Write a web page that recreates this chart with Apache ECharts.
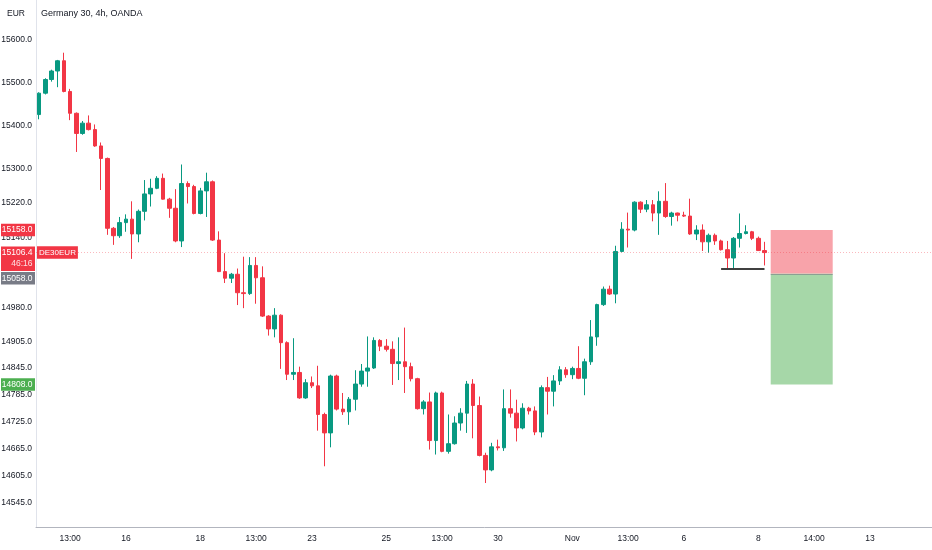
<!DOCTYPE html>
<html><head><meta charset="utf-8">
<script src="https://cdn.jsdelivr.net/npm/echarts@6/dist/echarts.min.js"></script>
<style>html,body{margin:0;padding:0;background:#fff}#c{width:932px;height:550px}</style>
</head><body><div id="c"></div>
<script>
const opens = [
15425,15475,15507,15527,15551,15479,15428,15381,15405,15390,
15352,15323,15162,15145,15175,15183,15149,15201,15241,15254,
15277,15229,15208,15133,15265,15258,15196,15248,15269,15135,
15063,15048,15057,15015,15013,15077,15049,14962,14933,14964,
14902,14831,14835,14778,14812,14805,14741,14700,14827,14753,
14747,14775,14809,14838,14845,14907,14894,14887,14855,14859,
14848,14821,14754,14769,14683,14789,14659,14676,14722,14744,
14809,14761,14650,14618,14669,14667,14754,14744,14711,14755,
14749,14702,14801,14793,14816,14841,14830,14844,14822,14859,
14915,14988,15023,15012,15109,15160,15158,15222,15206,15216,
15197,15224,15189,15197,15192,15190,15149,15158,15131,15146,
15133,15113,15094,15139,15150,15154,15139,15111];
const closes = [
15475,15507,15527,15551,15479,15428,15381,15405,15390,15352,
15323,15162,15145,15175,15183,15149,15201,15241,15254,15277,
15229,15208,15133,15265,15258,15196,15248,15269,15135,15063,
15048,15057,15015,15013,15077,15049,14962,14933,14964,14902,
14831,14835,14778,14812,14805,14741,14700,14827,14753,14747,
14775,14809,14838,14845,14907,14894,14887,14855,14859,14848,
14821,14754,14769,14683,14789,14659,14676,14722,14744,14809,
14761,14650,14618,14669,14667,14754,14744,14711,14755,14749,
14702,14801,14793,14816,14841,14830,14844,14822,14859,14915,
14988,15023,15012,15109,15160,15158,15222,15206,15216,15197,
15224,15189,15197,15192,15190,15149,15158,15131,15146,15133,
15113,15094,15139,15150,15154,15139,15111,15106.4];
const highs = [
15477,15510,15530,15553,15570,15485,15430,15410,15423,15402,
15360,15325,15165,15188,15194,15224,15205,15273,15276,15282,
15288,15232,15252,15309,15270,15262,15255,15290,15272,15155,
15105,15060,15070,15097,15096,15096,15075,14964,14980,14966,
14905,14912,14848,14820,14826,14850,14745,14830,14830,14789,
14780,14840,14854,14916,14914,14910,14910,14905,14914,14936,
14857,14823,14773,14790,14792,14792,14741,14737,14755,14816,
14820,14781,14656,14678,14685,14797,14797,14774,14766,14758,
14759,14806,14825,14829,14849,14847,14848,14894,14866,14953,
14990,15029,15031,15122,15176,15198,15224,15224,15227,15227,
15247,15266,15200,15198,15200,15230,15169,15171,15150,15150,
15136,15133,15142,15196,15169,15156,15143,15131];
const lows = [
15414,15472,15502,15489,15477,15412,15338,15378,15388,15350,
15250,15147,15124,15140,15154,15092,15130,15180,15212,15252,
15228,15186,15130,15119,15219,15194,15194,15188,15133,15062,
15037,15037,14987,14980,15010,14990,14960,14918,14914,14843,
14818,14818,14776,14776,14800,14705,14626,14668,14750,14740,
14718,14750,14803,14803,14843,14883,14882,14807,14818,14789,
14815,14752,14741,14663,14652,14657,14654,14674,14705,14700,
14688,14648,14589,14615,14661,14660,14734,14681,14708,14741,
14695,14690,14741,14759,14807,14823,14820,14820,14784,14852,
14895,14985,15010,14991,15107,15118,15155,15197,15199,15178,
15147,15186,15168,15178,15188,15147,15135,15110,15106,15124,
15111,15071,15071,15118,15148,15135,15110,15077];

const slotCount = 145;
const tickIndex = [5,14,26,35,44,56,65,74,86,95,104,116,125,134];
const tickText = ['13:00','16','18','13:00','23','25','13:00','30','Nov','13:00','6','8','14:00','13'];
const priceLabels = [15600,15500,15400,15300,15220,15140,14980,14905,14845,14785,14725,14665,14605,14545];
const lastPrice = 15106.4;
const countdown = '46:16';
const symbolTag = 'DE30EUR';
const stopPrice = 15158, entryPrice = 15058, targetPrice = 14808;
const supportLevel = 15069, supportFrom = 110, supportTo = 117;
const boxFrom = 118, boxTo = 128;
const yMin = 14492.3, yMax = 15694.6;

const FONT = "'Liberation Sans', Arial, sans-serif";
const FS = 8.5;
const UP = '#089981', DOWN = '#F23645';

const categories = Array.from({length: slotCount}, (_, i) => String(i));
const tickMap = {};
tickIndex.forEach((k, j) => { tickMap[k] = tickText[j]; });
const candles = opens.map((o, i) => [o, closes[i], lows[i], highs[i]]);

const chart = echarts.init(document.getElementById('c'), null, {renderer: 'canvas'});
const option = {
  animation: false,
  backgroundColor: '#ffffff',
  grid: {left: 36, top: 0, width: 6.2 * slotCount, bottom: 23, containLabel: false, outerBoundsMode: 'none'},
  xAxis: {
    type: 'category', data: categories, boundaryGap: true,
    axisLine: {lineStyle: {color: '#b2b5be', width: 1}},
    axisTick: {show: false}, splitLine: {show: false},
    axisLabel: {interval: 0, formatter: (v, idx) => tickMap[idx] || '', color: '#131722',
      fontSize: FS, fontFamily: FONT, margin: 7}
  },
  yAxis: {
    type: 'log', logBase: 10, min: yMin, max: yMax, position: 'left',
    axisLine: {show: true, lineStyle: {color: '#e0e3eb'}},
    axisTick: {show: false}, splitLine: {show: false},
    axisLabel: {customValues: priceLabels, formatter: v => Number(v).toFixed(1),
      color: '#131722', fontSize: FS, fontFamily: FONT, margin: 4}
  },
  series: [{
    type: 'candlestick', data: candles, barWidth: 4,
    itemStyle: {color: UP, color0: DOWN, borderColor: UP, borderColor0: DOWN, borderWidth: 1},
    markArea: {
      silent: true,
      data: [
        [{coord: [boxFrom, stopPrice], itemStyle: {color: '#F8A3AA', opacity: 1}}, {coord: [boxTo, entryPrice]}],
        [{coord: [boxFrom, entryPrice], itemStyle: {color: '#A6D7A8', opacity: 1}}, {coord: [boxTo, targetPrice]}]
      ]
    },
    markLine: {
      silent: true, symbol: 'none', animation: false,
      label: {show: false},
      data: [
        {yAxis: lastPrice, lineStyle: {color: 'rgba(242,54,69,0.35)', type: [1, 2], width: 1}},
        [{coord: [boxFrom, entryPrice], lineStyle: {color: 'rgba(120,123,134,0.6)', type: 'solid', width: 1}}, {coord: [boxTo, entryPrice]}],
        [{coord: [supportFrom, supportLevel], lineStyle: {color: '#000000', type: 'solid', width: 1.5}}, {coord: [supportTo, supportLevel]}]
      ]
    }
  }]
};
chart.setOption(option);

const yOf = v => chart.convertToPixel({yAxisIndex: 0}, v);
const TAG_H = 12.5;
function rect(x, y, w, h, fill) {
  return {type: 'rect', shape: {x, y, width: w, height: h}, style: {fill}, z: 100, silent: true};
}
function txt(x, y, text, align, fill) {
  return {type: 'text', x, y, style: {text, fill: fill || '#ffffff', fontSize: FS, fontFamily: FONT,
    align, verticalAlign: 'middle'}, z: 101, silent: true};
}
const g = [];
const yStop = yOf(stopPrice), yLast = yOf(lastPrice), yEntry = yOf(entryPrice), yTarget = yOf(targetPrice);
g.push(rect(1, yStop - TAG_H / 2, 34, TAG_H, DOWN), txt(32.5, yStop, stopPrice.toFixed(1), 'right'));
const lastTop = yLast - 6, lastH = 24.5;
g.push(rect(1, lastTop, 34, lastH, DOWN), txt(32.5, yLast, lastPrice.toFixed(1), 'right'),
       txt(32.5, yLast + 11.5, countdown, 'right', 'rgba(255,255,255,0.85)'));
const entryTop = Math.max(yEntry - TAG_H / 2, lastTop + lastH + 1);
g.push(rect(1, entryTop, 34, TAG_H, '#787B86'), txt(32.5, entryTop + TAG_H / 2, entryPrice.toFixed(1), 'right'));
g.push(rect(1, yTarget - TAG_H / 2, 34, TAG_H, '#4CAF50'), txt(32.5, yTarget, targetPrice.toFixed(1), 'right'));
g.push({type: 'text', x: 37, y: yLast, z: 101, silent: true,
  style: {text: symbolTag, fill: '#ffffff', fontSize: 8, fontFamily: FONT, align: 'left', verticalAlign: 'middle',
    backgroundColor: DOWN, padding: [2.5, 2, 2, 2]}});
g.push({type: 'text', x: 7, y: 14, style: {text: 'EUR', fill: '#131722', fontSize: FS, fontFamily: FONT, verticalAlign: 'middle'}, z: 101});
g.push({type: 'text', x: 41, y: 14, style: {text: 'Germany 30, 4h, OANDA', fill: '#131722', fontSize: 9, fontFamily: FONT, verticalAlign: 'middle'}, z: 101});
chart.setOption({graphic: {elements: g}});
</script>
</body></html>
